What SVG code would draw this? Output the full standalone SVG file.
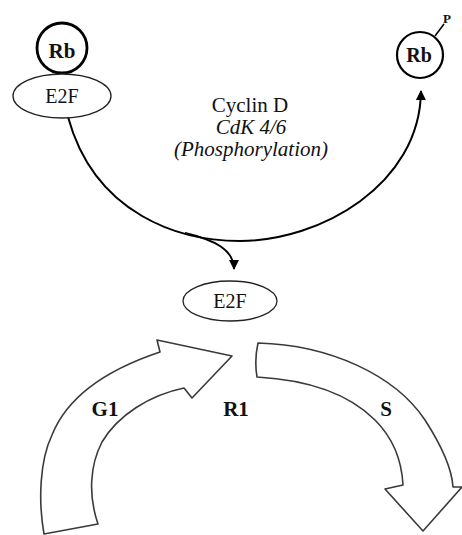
<svg xmlns="http://www.w3.org/2000/svg" width="462" height="535" viewBox="0 0 462 535" font-family="'Liberation Serif', 'Times New Roman', 'DejaVu Serif', serif">
  <defs>
    <marker id="head" viewBox="0 0 10 10" refX="9" refY="5" markerWidth="10" markerHeight="10" markerUnits="userSpaceOnUse" orient="auto">
      <path d="M0,0 L10,5 L0,10 Z" fill="#000"/>
    </marker>
    <style>
      text { font-family: "Liberation Serif", "Times New Roman", "DejaVu Serif", serif; fill: #111; }
      .bold { font-weight: bold; }
      .ital { font-style: italic; }
      .ell { fill: #fff; stroke: #222; stroke-width: 1.3; }
      .wire { fill: none; stroke: #000; stroke-width: 2; }
      .block { fill: #fff; stroke: #3a3a3a; stroke-width: 1.6; stroke-linejoin: round; }
    </style>
  </defs>

  <!-- connectors -->
  <g id="connectors">
    <path class="wire" d="M68,117 C95,215 180,241 240,241 C320,241 420,185 421,91" marker-end="url(#head)"/>
    <path class="wire" d="M185,233 C215,240 234,250 234,269" marker-end="url(#head)" style="stroke-width:1.8"/>
    <line x1="435" y1="36" x2="444" y2="24" stroke="#000" stroke-width="1.6"/>
  </g>

  <!-- Rb bound to E2F -->
  <g id="rb-bound">
    <circle cx="62" cy="48" r="25" fill="#fff" stroke="#000" stroke-width="2.8"/>
    <text class="bold" x="62" y="58" font-size="21" text-anchor="middle">Rb</text>
  </g>
  <g id="e2f-bound">
    <ellipse class="ell" cx="62" cy="96" rx="49" ry="22"/>
    <text x="62" y="103" font-size="20" text-anchor="middle">E2F</text>
  </g>

  <!-- phosphorylated Rb -->
  <g id="rb-phos">
    <circle cx="420" cy="55" r="23" fill="#fff" stroke="#000" stroke-width="2.2"/>
    <text class="bold" x="419" y="62" font-size="20" text-anchor="middle">Rb</text>
    <text class="bold" x="447" y="23" font-size="13" text-anchor="middle">P</text>
  </g>

  <!-- enzyme label -->
  <g id="enzyme">
    <text x="250" y="112" font-size="21" text-anchor="middle">Cyclin D</text>
    <text class="ital" x="251" y="134" font-size="21" text-anchor="middle">CdK 4/6</text>
    <text class="ital" x="251" y="156" font-size="21" text-anchor="middle">(Phosphorylation)</text>
  </g>

  <!-- free E2F -->
  <g id="e2f-free">
    <ellipse class="ell" cx="230" cy="301" rx="47" ry="20"/>
    <text x="230" y="308" font-size="20" text-anchor="middle">E2F</text>
  </g>

  <!-- G1 phase arrow -->
  <g id="g1">
    <path class="block" d="M44,534 C38,500 40,460 52,435 C66,400 100,372 160,352 L157,340 L232,356 L192,398 L184,388 C150,395 118,415 102,442 C90,465 88,495 98,524 Z"/>
    <text class="bold" x="105" y="416" font-size="21" text-anchor="middle">G1</text>
  </g>

  <!-- restriction point -->
  <g id="r1">
    <text class="bold" x="236" y="416" font-size="21" text-anchor="middle">R1</text>
  </g>

  <!-- S phase arrow -->
  <g id="s">
    <path class="block" d="M258,343 C330,345 395,375 425,420 C443,448 452,470 453,487 L462,487 L423,531 L385,489 L403,485 C402,465 395,440 375,420 C350,395 310,380 257,377 C255,365 256,352 258,343 Z"/>
    <text class="bold" x="386" y="416" font-size="21" text-anchor="middle">S</text>
  </g>
</svg>
